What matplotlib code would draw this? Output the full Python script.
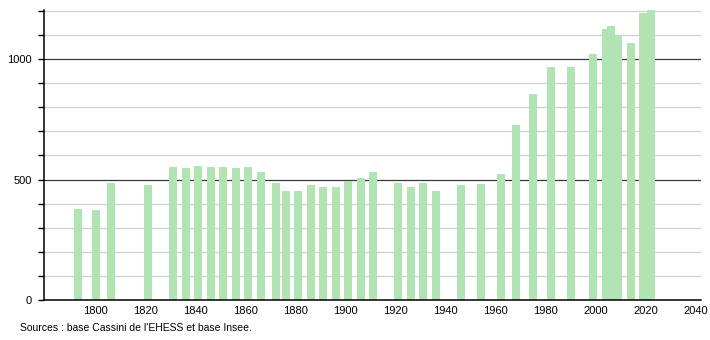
import matplotlib
matplotlib.use("Agg")
import matplotlib.pyplot as plt
from matplotlib.ticker import MultipleLocator, FixedLocator

years = [1793, 1800, 1806, 1821, 1831, 1836, 1841, 1846, 1851, 1856, 1861, 1866,
         1872, 1876, 1881, 1886, 1891, 1896, 1901, 1906, 1911, 1921, 1926, 1931,
         1936, 1946, 1954, 1962, 1968, 1975, 1982, 1990, 1999, 2004, 2006, 2009,
         2014, 2019, 2022]
population = [379, 375, 487, 479, 551, 546, 558, 551, 551, 546, 552, 533,
              487, 454, 454, 479, 469, 469, 492, 508, 533, 487, 469, 487,
              454, 479, 483, 525, 725, 854, 969, 969, 1021, 1125, 1136, 1101,
              1069, 1192, 1206]
xtick_years = [1800, 1820, 1840, 1860, 1880, 1900, 1920, 1940, 1960, 1980, 2000, 2020, 2040]
ytick_labels = [0, 500, 1000]
source_text = "Sources : base Cassini de l'EHESS et base Insee."

plt.rcParams['font.family'] = ['Liberation Sans', 'DejaVu Sans']

fig = plt.figure(figsize=(7.1, 3.4), dpi=100)
W, H = 710, 340
x0, x1, y0, y1 = 44, 700.7, 300, 10
ax = fig.add_axes([x0 / W, (H - y0) / H, (x1 - x0) / W, (y0 - y1) / H])

ax.set_xlim(1779.4, 2041.9)
ax.set_ylim(0, 1204)

# grid lines
for v in range(100, 1201, 100):
    if v % 500 == 0:
        ax.axhline(v, color='#3a3a3a', lw=0.9, zorder=1)
    else:
        ax.axhline(v, color='#cfcfcf', lw=0.9, zorder=1)

ax.bar(years, population, width=3.2, color='#b2e3b2', zorder=2, linewidth=0)

for s in ['top', 'right']:
    ax.spines[s].set_visible(False)
ax.spines['left'].set_linewidth(1.1)
ax.spines['bottom'].set_linewidth(1.1)
ax.spines['left'].set_zorder(3)
ax.spines['bottom'].set_zorder(3)

ax.xaxis.set_major_locator(FixedLocator(xtick_years))
ax.set_xticklabels([str(y) for y in xtick_years])
ax.tick_params(axis='x', length=0, pad=4, labelsize=8, labelcolor='#000000')

ax.yaxis.set_major_locator(FixedLocator(ytick_labels))
ax.set_yticklabels([str(v) for v in ytick_labels])
ax.yaxis.set_minor_locator(MultipleLocator(100))
ax.tick_params(axis='y', which='major', length=4, width=1, pad=5, labelsize=8)
ax.tick_params(axis='y', which='minor', length=4, width=1)

fig.text(20 / W, 1 - 328 / H, source_text, fontsize=7.5, va='center', ha='left')

fig.savefig('out.png', dpi=100)
